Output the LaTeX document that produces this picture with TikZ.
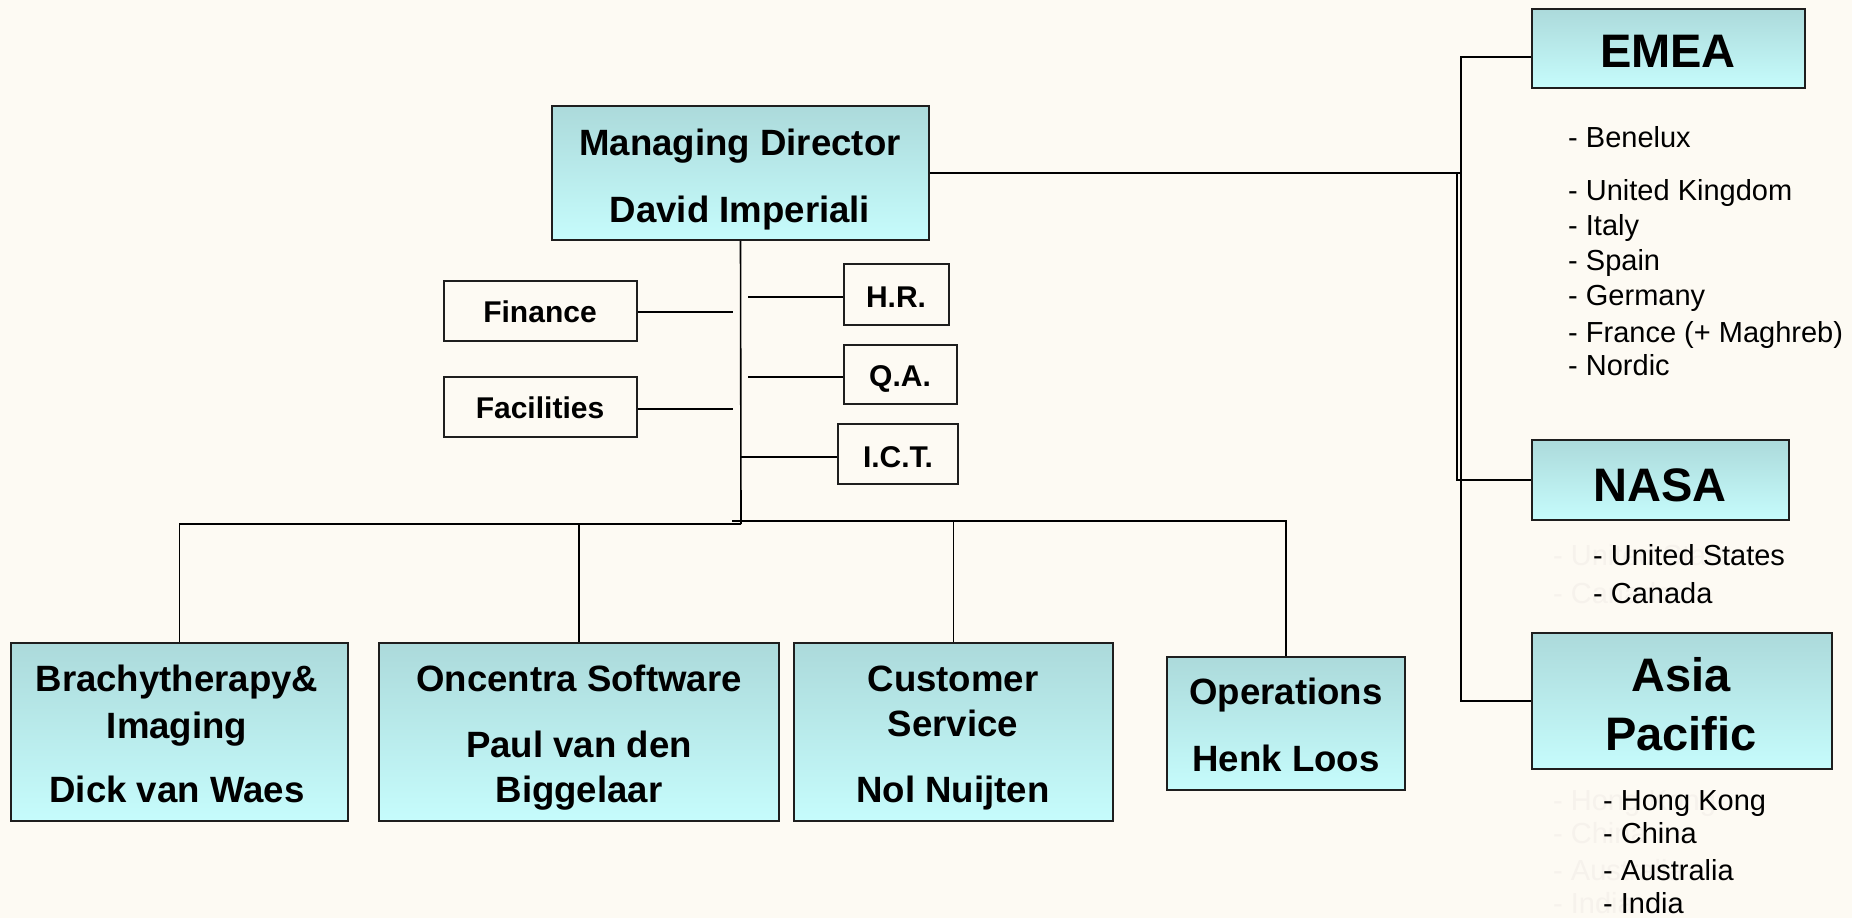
\documentclass[tikz,border=0pt]{standalone}
\usepackage{fontspec}
\setmainfont{Liberation Sans}
\definecolor{bgc}{RGB}{253,250,243}
\definecolor{btop}{RGB}{172,218,219}
\definecolor{bbot}{RGB}{198,252,252}
\definecolor{ghost}{RGB}{246,242,236}
\definecolor{edge}{RGB}{30,30,30}
\newcommand{\gbx}[6]{\node[#1, minimum width={#4-#2}, minimum height={#5-#3}] (#6) at ({(#2+#4)/2},{(#3+#5)/2}) {};}
\begin{document}
\begin{tikzpicture}[x=1pt,y=-1pt,
  gbox/.style={draw=edge, line width=1.6pt, top color=btop, bottom color=bbot, inner sep=0pt},
  wbox/.style={draw=edge, line width=1.6pt, fill=bgc, inner sep=0pt},
  conn/.style={draw=black, line width=1.6pt},
  bigt/.style={anchor=base, inner sep=0pt, font=\fontsize{36.6}{40}\selectfont\bfseries},
  midt/.style={anchor=base, inner sep=0pt, font=\fontsize{30}{34}\selectfont\bfseries},
  regt/.style={anchor=base, inner sep=0pt, font=\fontsize{47}{52}\selectfont\bfseries},
  lst/.style={anchor=base west, inner sep=0pt, font=\fontsize{29}{33}\selectfont},
  gst/.style={anchor=base west, inner sep=0pt, text=ghost, font=\fontsize{29}{33}\selectfont}]
\fill[bgc] (0,0) rectangle (1852,918);
\useasboundingbox (0,0) rectangle (1852,918);

% boxes
\gbx{gbox}{552}{106}{929}{240}{md}
\gbx{wbox}{444}{281}{637}{341}{fin}
\gbx{wbox}{444}{377}{637}{437}{fac}
\gbx{wbox}{844}{264}{949}{325}{hr}
\gbx{wbox}{844}{345}{957}{404}{qa}
\gbx{wbox}{838}{424}{958}{484}{ict}
\gbx{gbox}{11}{643}{348}{821}{bra}
\gbx{gbox}{379}{643}{779}{821}{onc}
\gbx{gbox}{794}{643}{1113}{821}{cus}
\gbx{gbox}{1167}{657}{1405}{790}{ops}
\gbx{gbox}{1532}{9}{1805}{88}{emea}
\gbx{gbox}{1532}{440}{1789}{520}{nasa}
\gbx{gbox}{1532}{633}{1832}{769}{asia}

% box texts
\node[bigt] (mdA) at (740,155) {Managing Director};
\node[bigt] (mdB) at (740,222) {David Imperiali};
\node[midt] (finT) at (540,322) {Finance};
\node[midt] (facT) at (540,418) {Facilities};
\node[midt] (hrT) at (896,307) {H.R.};
\node[midt] (qaT) at (900,386) {Q.A.};
\node[midt] (ictT) at (898,467) {I.C.T.};
\node[bigt] (braA) at (177,691) {Brachytherapy\&};
\node[bigt] (braB) at (177,738) {Imaging};
\node[bigt] (braC) at (177,802) {Dick van Waes};
\node[bigt] (oncA) at (579,691) {Oncentra Software};
\node[bigt] (oncB) at (579,757) {Paul van den};
\node[bigt] (oncC) at (579,802) {Biggelaar};
\node[bigt] (cusA) at (953,691) {Customer};
\node[bigt] (cusB) at (953,736) {Service};
\node[bigt] (cusC) at (953,802) {Nol Nuijten};
\node[bigt] (opsA) at (1286,704) {Operations};
\node[bigt] (opsB) at (1286,771) {Henk Loos};
\node[regt] (emeaT) at (1668,67) {EMEA};
\node[regt] (nasaT) at (1660,501) {NASA};
\node[regt] (asiaA) at (1681,691) {Asia};
\node[regt] (asiaB) at (1681,750) {Pacific};

% country lists
\node[lst] (e1) at (1568,147) {- Benelux};
\node[lst] (e2) at (1568,200) {- United Kingdom};
\node[lst] (e3) at (1568,235) {- Italy};
\node[lst] (e4) at (1568,270) {- Spain};
\node[lst] (e5) at (1568,305) {- Germany};
\node[lst] (e6) at (1568,342) {- France (+ Maghreb)};
\node[lst] (e7) at (1568,375) {- Nordic};

\node[gst] (g1) at (1553,565) {- United States};
\node[gst] (g2) at (1553,603) {- Canada};
\node[gst] (g3) at (1553,810) {- Hong Kong};
\node[gst] (g4) at (1553,843) {- China};
\node[gst] (g5) at (1553,880) {- Australia};
\node[gst] (g6) at (1553,913) {- India};

\node[lst] (n1) at (1593,565) {- United States};
\node[lst] (n2) at (1593,603) {- Canada};
\node[lst] (a1) at (1603,810) {- Hong Kong};
\node[lst] (a2) at (1603,843) {- China};
\node[lst] (a3) at (1603,880) {- Australia};
\node[lst] (a4) at (1603,913) {- India};

% connector coordinates
\coordinate (busL) at (741,524);
\coordinate (busR) at (732,521);
\coordinate (finE) at (733,312);
\coordinate (facE) at (733,409);
\coordinate (hrW) at (748,297);
\coordinate (qaW) at (748,377);
\coordinate (ictW) at (741,457);
\coordinate (mdR) at (1461,173);
\coordinate (nj) at (1457,173);
\coordinate (ej) at (1461,57);

% connectors
\draw[conn] (md.south) -- (busL);
\draw[conn] (bra.north) |- (busL);
\draw[conn] (onc.north) -- (onc.north |- busL);
\draw[conn] (busR) -| (ops.north);
\draw[conn] (cus.north) -- (cus.north |- busR);
\draw[conn] (fin.east |- finE) -- (finE);
\draw[conn] (fac.east |- facE) -- (facE);
\draw[conn] (hrW) -- (hrW -| hr.west);
\draw[conn] (qaW) -- (qaW -| qa.west);
\draw[conn] (ictW) -- (ictW -| ict.west);
\draw[conn] (md.east |- mdR) -- (mdR);
\draw[conn] (emea.west |- ej) -- (ej) -- (ej |- asia.west) -- (asia.west);
\draw[conn] (nj) -- (nj |- nasa.west) -- (nasa.west);
\end{tikzpicture}
\end{document}
